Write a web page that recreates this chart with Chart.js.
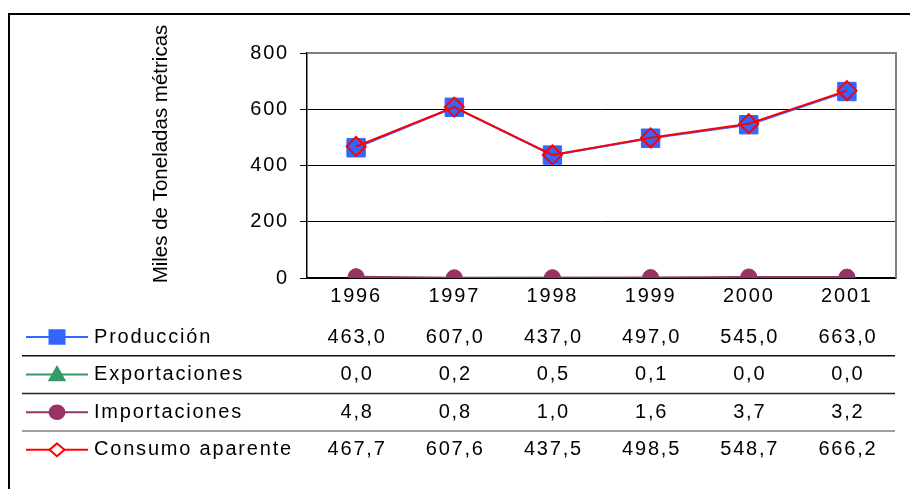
<!DOCTYPE html>
<html>
<head>
<meta charset="utf-8">
<script src="https://cdn.jsdelivr.net/npm/chart.js@4.4.1/dist/chart.umd.min.js"></script>
<style>
    html, body { margin: 0; padding: 0; background: #fff; }
    #wrap { width: 910px; height: 489px; }
</style>
</head>
<body>
<div id="wrap"><canvas id="my_chart"></canvas></div>
<script>
var years = ["1996", "1997", "1998", "1999", "2000", "2001"];
var produccion = [463.0, 607.0, 437.0, 497.0, 545.0, 663.0];
var exportaciones = [0.0, 0.2, 0.5, 0.1, 0.0, 0.0];
var importaciones = [4.8, 0.8, 1.0, 1.6, 3.7, 3.2];
var consumo = [467.7, 607.6, 437.5, 498.5, 548.7, 666.2];
var yTicks = [0, 200, 400, 600, 800];
var yTitle = "Miles de Toneladas métricas";

(function () {
    "use strict";

    var FONT = "'Liberation Sans', Arial, sans-serif";
    var SPACING = "1.8px";
    var SIZE = 20;
    Chart.defaults.font.family = FONT;
    Chart.defaults.color = "#000";

    function fmt(v) {
        return v.toFixed(1).replace(".", ",");
    }

    function marker(ctx, style, x, y, r, fill, stroke) {
        ctx.save();
        ctx.beginPath();
        if (style === "rect") {
            ctx.rect(x - r, y - r * 0.9, 2 * r, 1.8 * r);
        } else if (style === "circle") {
            ctx.ellipse(x, y, r, r * 0.9, 0, 0, Math.PI * 2);
        } else if (style === "triangle") {
            ctx.moveTo(x, y - r);
            ctx.lineTo(x + r, y + r * 0.75);
            ctx.lineTo(x - r, y + r * 0.75);
            ctx.closePath();
        } else {
            ctx.moveTo(x, y - r * 0.85);
            ctx.lineTo(x + r, y);
            ctx.lineTo(x, y + r * 0.85);
            ctx.lineTo(x - r, y);
            ctx.closePath();
        }
        ctx.fillStyle = fill;
        ctx.fill();
        ctx.lineWidth = 2;
        ctx.strokeStyle = stroke;
        ctx.stroke();
        ctx.restore();
    }

    var spacingPlugin = {
        id: "spacing",
        beforeUpdate: function (chart) { chart.ctx.letterSpacing = SPACING; },
        beforeLayout: function (chart) { chart.ctx.letterSpacing = SPACING; },
        beforeDraw: function (chart) {
            var ctx = chart.ctx;
            ctx.letterSpacing = SPACING;
            ctx.save();
            ctx.fillStyle = "#fff";
            ctx.fillRect(0, 0, chart.width, chart.height);
            // outer frame
            ctx.strokeStyle = "#000";
            ctx.lineWidth = 2;
            ctx.beginPath();
            ctx.moveTo(9, chart.height);
            ctx.lineTo(9, 14);
            ctx.lineTo(chart.width, 14);
            ctx.stroke();
            ctx.restore();
        },
        beforeDatasetsDraw: function (chart) {
            var ctx = chart.ctx, a = chart.chartArea;
            ctx.save();
            ctx.strokeStyle = "#808080";
            ctx.lineWidth = 2;
            ctx.beginPath();
            ctx.moveTo(a.left, a.top);
            ctx.lineTo(a.right, a.top);
            ctx.lineTo(a.right, a.bottom);
            ctx.stroke();
            ctx.restore();
        },
        afterDraw: function (chart) {
            var ctx = chart.ctx;
            var xs = chart.scales.x;
            ctx.save();

            // y axis title
            ctx.letterSpacing = "0px";
            ctx.translate(161, 154);
            ctx.rotate(-Math.PI / 2);
            ctx.font = "20.5px " + FONT;
            ctx.fillStyle = "#000";
            ctx.textAlign = "center";
            ctx.textBaseline = "middle";
            ctx.fillText(yTitle, 0, 0);
            ctx.setTransform(1, 0, 0, 1, 0, 0);

            // data table
            var rows = [0, 1, 2, 3];
            var rowTop = 337, rowStep = 37.6;
            var lineColors = ["#111", "#222", "#808080"];
            ctx.letterSpacing = SPACING;
            ctx.font = SIZE + "px " + FONT;
            rows.forEach(function (di, r) {
                var ds = chart.data.datasets[di];
                var y = rowTop + r * rowStep;
                ctx.strokeStyle = ds.borderColor;
                ctx.lineWidth = 2;
                ctx.beginPath();
                ctx.moveTo(26, y);
                ctx.lineTo(88, y);
                ctx.stroke();
                var fill = ds.pointStyle === "rectRot" ? "#fff" : ds.pointBackgroundColor;
                marker(ctx, ds.pointStyle, 57, y, 7.5, fill, ds.pointBorderColor);

                ctx.fillStyle = "#000";
                ctx.textAlign = "left";
                ctx.textBaseline = "middle";
                ctx.fillText(ds.label, 94, y);
                ctx.textAlign = "center";
                ds.data.forEach(function (v, j) {
                    ctx.fillText(fmt(v), xs.getPixelForValue(j) + 1, y);
                });

                if (r < rows.length - 1) {
                    ctx.strokeStyle = lineColors[r];
                    ctx.lineWidth = 1.5;
                    ctx.beginPath();
                    ctx.moveTo(22, y + rowStep / 2);
                    ctx.lineTo(895, y + rowStep / 2);
                    ctx.stroke();
                }
            });
            ctx.restore();
        }
    };

    var data = {
        labels: years,
        datasets: [
            {
                label: "Producción",
                data: produccion,
                borderColor: "#3366FF",
                borderWidth: 2,
                pointStyle: "rect",
                pointRadius: 13,
                pointBackgroundColor: "#3366FF",
                pointBorderColor: "#3366FF",
                pointBorderWidth: 1,
                order: 3,
            },
            {
                label: "Exportaciones",
                data: exportaciones,
                borderColor: "#339966",
                borderWidth: 2,
                pointStyle: "triangle",
                pointRadius: 8,
                pointBackgroundColor: "#339966",
                pointBorderColor: "#339966",
                pointBorderWidth: 1,
                order: 2,
            },
            {
                label: "Importaciones",
                data: importaciones,
                borderColor: "#993366",
                borderWidth: 2,
                pointStyle: "circle",
                pointRadius: 8,
                pointBackgroundColor: "#993366",
                pointBorderColor: "#993366",
                pointBorderWidth: 1,
                order: 1,
            },
            {
                label: "Consumo aparente",
                data: consumo,
                borderColor: "#FF0000",
                borderWidth: 2,
                pointStyle: "rectRot",
                pointRadius: 9.5,
                pointBackgroundColor: "rgba(0,0,0,0)",
                pointBorderColor: "#FF0000",
                pointBorderWidth: 2,
                order: 0,
            },
        ],
    };

    var options = {
        responsive: true,
        maintainAspectRatio: false,
        animation: false,
        events: [],
        layout: { padding: { top: 53, right: 14, left: 0, bottom: 0 } },
        plugins: {
            legend: { display: false },
            tooltip: { enabled: false },
        },
        scales: {
            x: {
                offset: true,
                grid: { display: false, drawTicks: false },
                border: { color: "#000", width: 1.5 },
                ticks: { font: { size: SIZE }, color: "#000", padding: 6, maxRotation: 0 },
                afterFit: function (s) { s.height = 489 - 278; },
            },
            y: {
                min: 0,
                max: 800,
                afterBuildTicks: function (s) {
                    s.ticks = yTicks.map(function (v) { return { value: v }; });
                },
                ticks: { font: { size: SIZE }, color: "#000", padding: 11 },
                grid: {
                    color: function (c) { return c.tick && c.tick.value === 800 ? "#808080" : "#000"; },
                    tickColor: "#000",
                    tickLength: 7,
                    lineWidth: 1,
                },
                border: { color: "#000", width: 1.5 },
                afterFit: function (s) { s.width = 307; },
            },
        },
    };

    var ctx = document.getElementById("my_chart").getContext("2d");
    new Chart(ctx, {
        type: "line",
        data: data,
        options: options,
        plugins: [spacingPlugin],
    });
})();
</script>
</body>
</html>
